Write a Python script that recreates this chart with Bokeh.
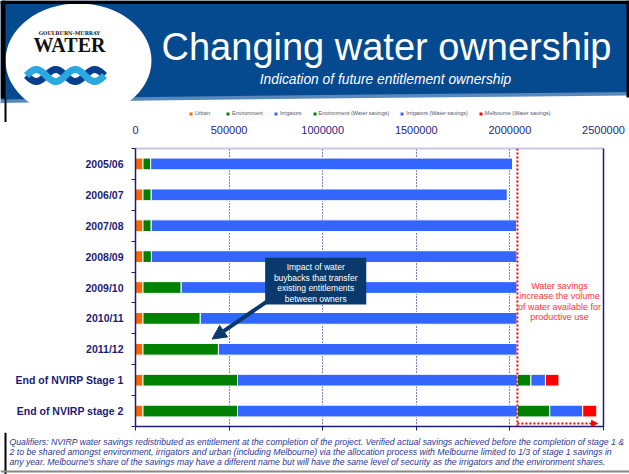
import numpy as np
from bokeh.plotting import figure
from bokeh.models import (ColumnDataSource, Range1d, LinearAxis,
                          FixedTicker, NumeralTickFormatter, Legend, LegendItem, Span, Arrow,
                          NormalHead, BoxAnnotation, Label)
from bokeh.core.properties import value
from bokeh.embed import file_html
from bokeh.resources import INLINE

# ---------------- data ----------------
categories = ["2005/06", "2006/07", "2007/08", "2008/09", "2009/10", "2010/11", "2011/12",
              "End of NVIRP Stage 1", "End of NVIRP stage 2"]
urban = [40000, 40000, 40000, 40000, 40000, 40000, 40000, 40000, 40000]
environment = [41000, 44000, 44000, 45000, 204000, 306000, 403000, 505000, 505000]
irrigators = [1936000, 1903000, 1953000, 1955000, 1796000, 1694000, 1597000, 1495000, 1495000]
env_savings = [0, 0, 0, 0, 0, 0, 0, 72000, 173000]
irr_savings = [0, 0, 0, 0, 0, 0, 0, 78000, 176000]
melb_savings = [0, 0, 0, 0, 0, 0, 0, 72000, 75000]
series_names = ["Urban", "Environment", "Irrigators", "Environment (Water savings)",
                "Irrigators (Water savings)", "Melbourne (Water savings)"]
x_ticks = [0, 500000, 1000000, 1500000, 2000000, 2500000]

NAVY = "#1C1C74"
BLUE_HDR = "#05498F"
FONT = "Liberation Sans"
colors = ["#FF6600", "#008000", "#3366FF", "#008000", "#3366FF", "#FF0000"]
keys = ["urban", "environment", "irrigators", "env_savings", "irr_savings", "melb_savings"]

n = len(categories)
ypos = [n - i - 0.5 for i in range(n)]   # first category at the top

W = 629

# ---------------- header (page rows 0..122) ----------------
h = figure(width=W, height=122, x_range=Range1d(0, 629), y_range=Range1d(122, 0),
           x_axis_location=None, y_axis_location=None, min_border=0,
           toolbar_location=None, output_backend="svg",
           background_fill_color="white", border_fill_color="white", outline_line_color=None)
h.grid.visible = False
h.patch(x=[0, 629, 629, 0], y=[0, 0, 97, 104], fill_color=BLUE_HDR, line_color=None)
h.patch(x=[0, 150, 320, 470, 629, 629, 0], y=[99, 96.5, 94.5, 93, 91.5, 104, 104],
        fill_color="#8FB3DA", line_color=None, fill_alpha=0.6)
h.patch(x=[0, 150, 320, 470, 629, 629, 0], y=[102.5, 100, 98, 96.5, 95, 122, 122],
        fill_color="white", line_color=None)
h.ellipse(x=[78], y=[60], width=146, height=114, fill_color="white", line_color=None)
# black slide border
h.quad(left=[0, 0, 626], right=[629, 5, 629], top=[0, 0, 0], bottom=[3.5, 98, 97],
       fill_color="black", line_color=None)
h.quad(left=[4], right=[6], top=[98], bottom=[122], fill_color="black", line_color=None)
h.text(x=[69], y=[32], text=["GOULBURN-MURRAY"], text_font=value("DejaVu Serif"),
       text_font_size="5px", text_font_style="bold", text_color="#222222",
       text_align="center", text_baseline="middle")
h.text(x=[69], y=[44.5], text=["WATER"], text_font=value("Liberation Serif"),
       text_font_size="20px", text_font_style="bold", text_color="#111111",
       text_align="center", text_baseline="middle")
wx = np.linspace(26, 104, 80)
h.line(wx, 75 + 6 * np.sin((wx - 26) / 39 * 2 * np.pi), line_color="#0B3D8E", line_width=7)
h.line(wx, 75 - 6 * np.sin((wx - 26) / 39 * 2 * np.pi), line_color="#2AA8E0", line_width=7)
h.text(x=[386], y=[46], text=["Changing water ownership"], text_font=value(FONT),
       text_font_size="38px", text_color="white", text_align="center", text_baseline="middle")
h.text(x=[385], y=[79], text=["Indication of future entitlement ownership"], text_font=value(FONT),
       text_font_size="13.8px", text_font_style="italic", text_color="white",
       text_align="center", text_baseline="middle")

# legend (swatches mirror the chart's series styles; the proxy marks sit outside the view)
legend_rs = [h.hbar(y=[-50], left=[0], right=[1], height=1, fill_color=c, line_color="white")
             for c in colors]
legend = Legend(items=[LegendItem(label=s, renderers=[r]) for s, r in zip(series_names, legend_rs)],
                orientation="horizontal", location=(188, 6), glyph_width=5, glyph_height=5,
                label_text_font=FONT, label_text_font_size="5.5px", label_text_color="#555566",
                label_standoff=2, label_height=6, spacing=10, padding=0, margin=0,
                border_line_color=None, background_fill_alpha=0)
h.add_layout(legend)

# ---------------- chart (page rows 122..432) ----------------
src = ColumnDataSource(dict(cat=categories, ypos=ypos, urban=urban, environment=environment,
                            irrigators=irrigators, env_savings=env_savings,
                            irr_savings=irr_savings, melb_savings=melb_savings))

p = figure(width=W, height=310, x_range=Range1d(0, 2500000), y_range=Range1d(0, n),
           x_axis_location="above", y_axis_location=None,
           min_border_left=135, min_border_right=26, min_border_top=24, min_border_bottom=6,
           toolbar_location=None, output_backend="svg", outline_line_color=None)

renderers = p.hbar_stack(keys, y="ypos", height=0.38, fill_color=colors, line_color="white",
                         line_width=1, source=src)

tick = FixedTicker(ticks=x_ticks)
ax = p.xaxis[0]
ax.ticker = tick
ax.formatter = NumeralTickFormatter(format="0")
ax.major_tick_line_color = None
ax.minor_tick_line_color = None
ax.axis_line_color = "#C8C8E8"
ax.axis_line_width = 2
ax.major_label_text_font = FONT
ax.major_label_text_font_size = "11px"
ax.major_label_text_color = "#26267E"
ax.major_label_standoff = 9

p.xgrid.ticker = tick
p.xgrid.grid_line_color = "#000080"
p.xgrid.grid_line_dash = "1 2"
p.xgrid.grid_line_width = 1
p.ygrid.visible = False

# category axis: labels at bar centres, small tick marks at the category boundaries
cat_axis = LinearAxis(ticker=FixedTicker(ticks=ypos, minor_ticks=list(range(n + 1))),
                      major_label_overrides={y: c for y, c in zip(ypos, categories)},
                      major_tick_line_color=None, major_tick_in=0, major_tick_out=0,
                      minor_tick_line_color=NAVY, minor_tick_in=0, minor_tick_out=4,
                      axis_line_color=NAVY, axis_line_width=1.5,
                      major_label_standoff=8, major_label_text_font=FONT,
                      major_label_text_font_style="bold", major_label_text_font_size="10.5px",
                      major_label_text_color=NAVY)
p.add_layout(cat_axis, "left")
right_axis = LinearAxis(ticker=FixedTicker(ticks=[]), minor_tick_line_color=None,
                        major_tick_line_color=None, axis_line_color=NAVY, axis_line_width=1.5)
p.add_layout(right_axis, "right")
bottom_axis = LinearAxis(ticker=FixedTicker(ticks=[], minor_ticks=x_ticks),
                         major_tick_line_color=None, minor_tick_in=0, minor_tick_out=4,
                         minor_tick_line_color=NAVY, axis_line_color=NAVY, axis_line_width=1.5)
p.add_layout(bottom_axis, "below")

base_total = urban[-1] + environment[-1] + irrigators[-1]
p.add_layout(Span(location=base_total, dimension="height", line_color="#FF0000",
                  line_dash="2 2", line_width=2))
p.add_layout(Arrow(x_start=base_total, x_end=2468000, y_start=0.1, y_end=0.1,
                   line_color="#FF0000", line_dash="2 2", line_width=2,
                   end=NormalHead(size=6, fill_color="#FF0000", line_color="#FF0000")))

for txt, yy in zip(["Water savings", "increase the volume", "of water available for",
                    "productive use"], [4.56, 4.21, 3.87, 3.54]):
    p.add_layout(Label(x=2265000, y=yy, text=txt, text_align="center", text_baseline="middle",
                       text_font=FONT, text_font_size="9px", text_color="#FF3333"))

BOX = "#0A3A6B"
p.add_layout(BoxAnnotation(left=692600, right=1232700, bottom=3.95, top=5.46,
                           fill_color=BOX, fill_alpha=1, line_color=None))
for txt, yy in zip(["Impact of water", "buybacks that transfer", "existing entitlements",
                    "between owners"], [5.16, 4.81, 4.47, 4.13]):
    p.add_layout(Label(x=962600, y=yy, text=txt, text_align="center", text_baseline="middle",
                       text_font=FONT, text_font_size="8.5px", text_color="white"))
p.add_layout(Arrow(x_start=703000, y_start=4.05, x_end=409000, y_end=2.83,
                   line_color=BOX, line_width=4,
                   end=NormalHead(size=14, fill_color=BOX, line_color=BOX)))

# ---------------- footer (page rows 432..474) ----------------
f = figure(width=W, height=42, x_range=Range1d(0, 629), y_range=Range1d(474, 432),
           x_axis_location=None, y_axis_location=None, min_border=0,
           toolbar_location=None, output_backend="svg", outline_line_color=None)
f.grid.visible = False
f.quad(left=[4, 0], right=[6, 629], top=[432, 470], bottom=[474, 472],
       fill_color=["black", "#888888"], line_color=None)
footer_lines = [
    "Qualifiers: NVIRP water savings redistributed as entitlement at the completion of the project. Verified actual savings achieved before the completion of stage 1 &",
    "2 to be shared amongst environment, irrigators and urban (including Melbourne) via the allocation process with Melbourne limited to 1/3 of stage 1 savings in",
    "any year. Melbourne's share of the savings may have a different name but will have the same level of security as the irrigators and the environment shares.",
]
f.text(x=[9, 9, 9], y=[441.7, 451.7, 461.7], text=footer_lines, text_font=value(FONT),
       text_font_size="8.7px", text_font_style="italic", text_color="#2B3990",
       text_align="left", text_baseline="middle")

open("out.html", "w").write(file_html([h, p, f], INLINE))
